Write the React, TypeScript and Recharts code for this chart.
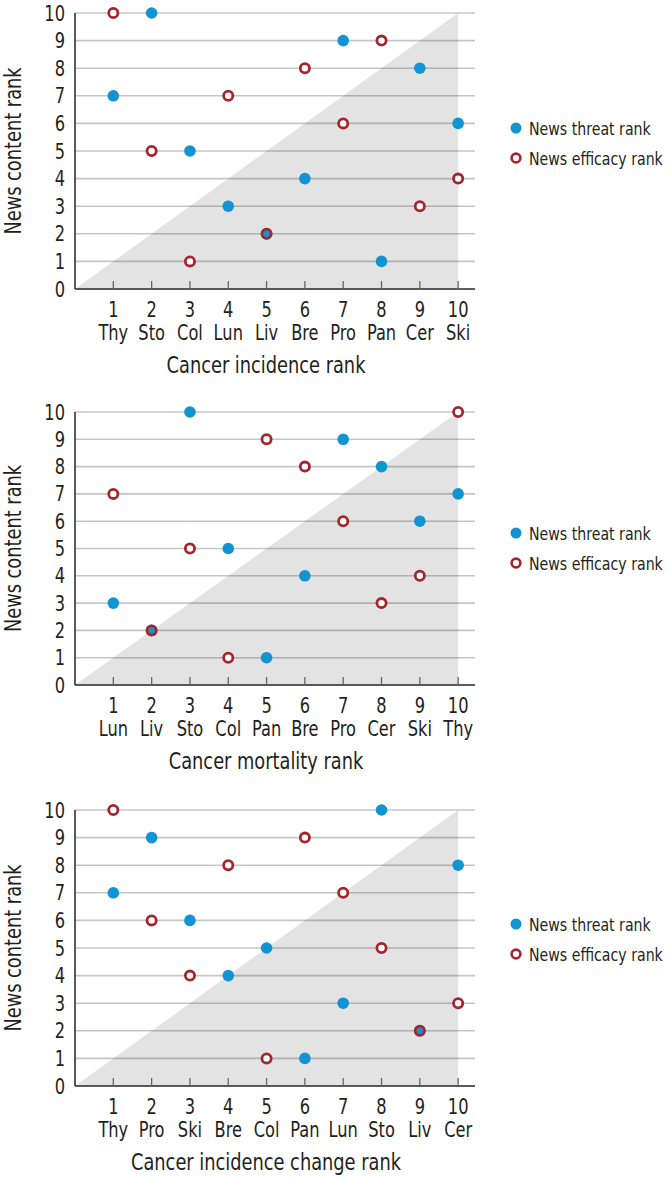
import React from 'react';
import { ScatterChart, Scatter, XAxis, YAxis, CartesianGrid, ReferenceArea, Legend, Label } from 'recharts';

const rankTicks = [1, 2, 3, 4, 5, 6, 7, 8, 9, 10];
const contentTicks = [0, 1, 2, 3, 4, 5, 6, 7, 8, 9, 10];

const incidenceCancers = ['Thy', 'Sto', 'Col', 'Lun', 'Liv', 'Bre', 'Pro', 'Pan', 'Cer', 'Ski'];
const incidenceThreat = [7, 10, 5, 3, 2, 4, 9, 1, 8, 6];
const incidenceEfficacy = [10, 5, 1, 7, 2, 8, 6, 9, 3, 4];

const mortalityCancers = ['Lun', 'Liv', 'Sto', 'Col', 'Pan', 'Bre', 'Pro', 'Cer', 'Ski', 'Thy'];
const mortalityThreat = [3, 2, 10, 5, 1, 4, 9, 8, 6, 7];
const mortalityEfficacy = [7, 2, 5, 1, 9, 8, 6, 3, 4, 10];

const changeCancers = ['Thy', 'Pro', 'Ski', 'Bre', 'Col', 'Pan', 'Lun', 'Sto', 'Liv', 'Cer'];
const changeThreat = [7, 9, 6, 4, 5, 1, 3, 10, 2, 8];
const changeEfficacy = [10, 6, 4, 8, 1, 9, 7, 5, 2, 3];

const yTitle = 'News content rank';
const threatName = 'News threat rank';
const efficacyName = 'News efficacy rank';

const FONT = "'DejaVu Sans Condensed', 'Liberation Sans Narrow', Roboto, sans-serif";
const SX = 0.86;
const BLUE = '#1394d2';
const RED = '#a3262e';
const TEXT = '#231f20';

const panels = [
  { title: 'Cancer incidence rank', cancers: incidenceCancers, threat: incidenceThreat, efficacy: incidenceEfficacy, top: 0, plotH: 276, legendTop: 113 },
  { title: 'Cancer mortality rank', cancers: mortalityCancers, threat: mortalityThreat, efficacy: mortalityEfficacy, top: 399, plotH: 273, legendTop: 119 },
  { title: 'Cancer incidence change rank', cancers: changeCancers, threat: changeThreat, efficacy: changeEfficacy, top: 797, plotH: 276, legendTop: 112 },
];

const CHART_W = 669;
const CHART_H = 380;

function NarrowText({ x, y, anchor = 'middle', size = 20, rotate = 0, dy, children }: any) {
  return (
    <text
      transform={`translate(${x},${y}) rotate(${rotate}) scale(${SX},1)`}
      x={0}
      y={0}
      dy={dy}
      textAnchor={anchor}
      fontSize={size}
      fill={TEXT}
      fontFamily={FONT}
    >
      {children}
    </text>
  );
}

function ThreatDot(props: any) {
  const { cx, cy } = props;
  if (cx == null || cy == null) return null;
  return <circle cx={cx} cy={cy} r={5.8} fill={BLUE} />;
}

function EfficacyRing(props: any) {
  const { cx, cy, payload } = props;
  if (cx == null || cy == null) return null;
  return (
    <circle cx={cx} cy={cy} r={4.6} fill={payload && payload.overlap ? BLUE : '#fff'} stroke={RED} strokeWidth={2.8} />
  );
}

function Triangle(props: any) {
  const { x, y, width, height } = props;
  const pts = `${x},${y + height} ${x + width},${y} ${x + width},${y + height}`;
  return <polygon points={pts} fill="#000" fillOpacity={0.11} />;
}

function makeTick(cancers: string[]) {
  return function Tick(props: any) {
    const { x, y, payload } = props;
    const idx = rankTicks.indexOf(payload.value);
    return (
      <g>
        <line x1={x} x2={x} y1={y} y2={y - 8} stroke="#666" strokeWidth={1.3} />
        <NarrowText x={x} y={y + 28} size={21}>{payload.value}</NarrowText>
        <NarrowText x={x} y={y + 51} size={21}>{cancers[idx]}</NarrowText>
      </g>
    );
  };
}

function YTick(props: any) {
  const { x, y, payload } = props;
  return (
    <NarrowText x={x} y={y} anchor="end" size={21} dy="0.36em">{payload.value}</NarrowText>
  );
}

function LegendContent() {
  return (
    <svg width={160} height={60} style={{ overflow: 'visible' }}>
      <circle cx={9} cy={15} r={5.5} fill={BLUE} />
      <NarrowText x={22} y={15} anchor="start" size={18.3} dy="0.36em">{threatName}</NarrowText>
      <circle cx={9} cy={45} r={4.4} fill="#fff" stroke={RED} strokeWidth={2.6} />
      <NarrowText x={22} y={45} anchor="start" size={18.3} dy="0.36em">{efficacyName}</NarrowText>
    </svg>
  );
}

function Panel({ p }: { p: typeof panels[number] }) {
  const threatData = p.threat.map((v, i) => ({ x: rankTicks[i], y: v }));
  const efficacyData = p.efficacy.map((v, i) => ({ x: rankTicks[i], y: v, overlap: v === p.threat[i] }));
  const bottom = CHART_H - 13 - p.plotH;
  const legendW = 160;
  return (
    <div style={{ position: 'absolute', left: 0, top: p.top }}>
      <ScatterChart width={CHART_W} height={CHART_H} margin={{ top: 13, left: 0, right: 194 - legendW, bottom: bottom - 88 }}>
        <CartesianGrid vertical={false} stroke="#c6c6c6" strokeWidth={1.6} />
        <ReferenceArea x1={0} x2={10} y1={0} y2={10} shape={Triangle} />
        <XAxis
          type="number"
          dataKey="x"
          domain={[0, 10.44]}
          ticks={rankTicks}
          interval={0}
          height={88}
          tickSize={0}
          tickMargin={0}
          tick={makeTick(p.cancers)}
          axisLine={{ stroke: '#333', strokeWidth: 1.6 }}
          tickLine={false}
        >
          <Label
            content={(lp: any) => {
              const vb = lp.viewBox || {};
              return (
                <NarrowText x={vb.x + 191} y={vb.y + 84} size={23}>{p.title}</NarrowText>
              );
            }}
          />
        </XAxis>
        <YAxis
          type="number"
          dataKey="y"
          domain={[0, 10]}
          ticks={contentTicks}
          interval={0}
          width={75}
          tickLine={false}
          tickSize={6}
          tickMargin={4}
          tick={YTick}
          axisLine={{ stroke: '#333', strokeWidth: 1.6 }}
        >
          <Label
            content={(lp: any) => {
              const vb = lp.viewBox || {};
              const cy = vb.y + vb.height / 2;
              return (
                <NarrowText x={13} y={cy} rotate={-90} size={23} dy="0.36em">{yTitle}</NarrowText>
              );
            }}
          />
        </YAxis>
        <Legend
          layout="vertical"
          align="right"
          verticalAlign="middle"
          content={LegendContent}
          wrapperStyle={{ width: legendW, left: 507, right: undefined, top: p.legendTop }}
        />
        <Scatter name={threatName} data={threatData} fill={BLUE} shape={ThreatDot} isAnimationActive={false} />
        <Scatter name={efficacyName} data={efficacyData} fill={RED} shape={EfficacyRing} isAnimationActive={false} />
      </ScatterChart>
    </div>
  );
}

export default function App() {
  return (
    <div style={{ position: 'absolute', left: 0, top: 0, width: 669, height: 1177, background: '#fff' }}>
      {panels.map((p) => (
        <Panel key={p.title} p={p} />
      ))}
    </div>
  );
}
